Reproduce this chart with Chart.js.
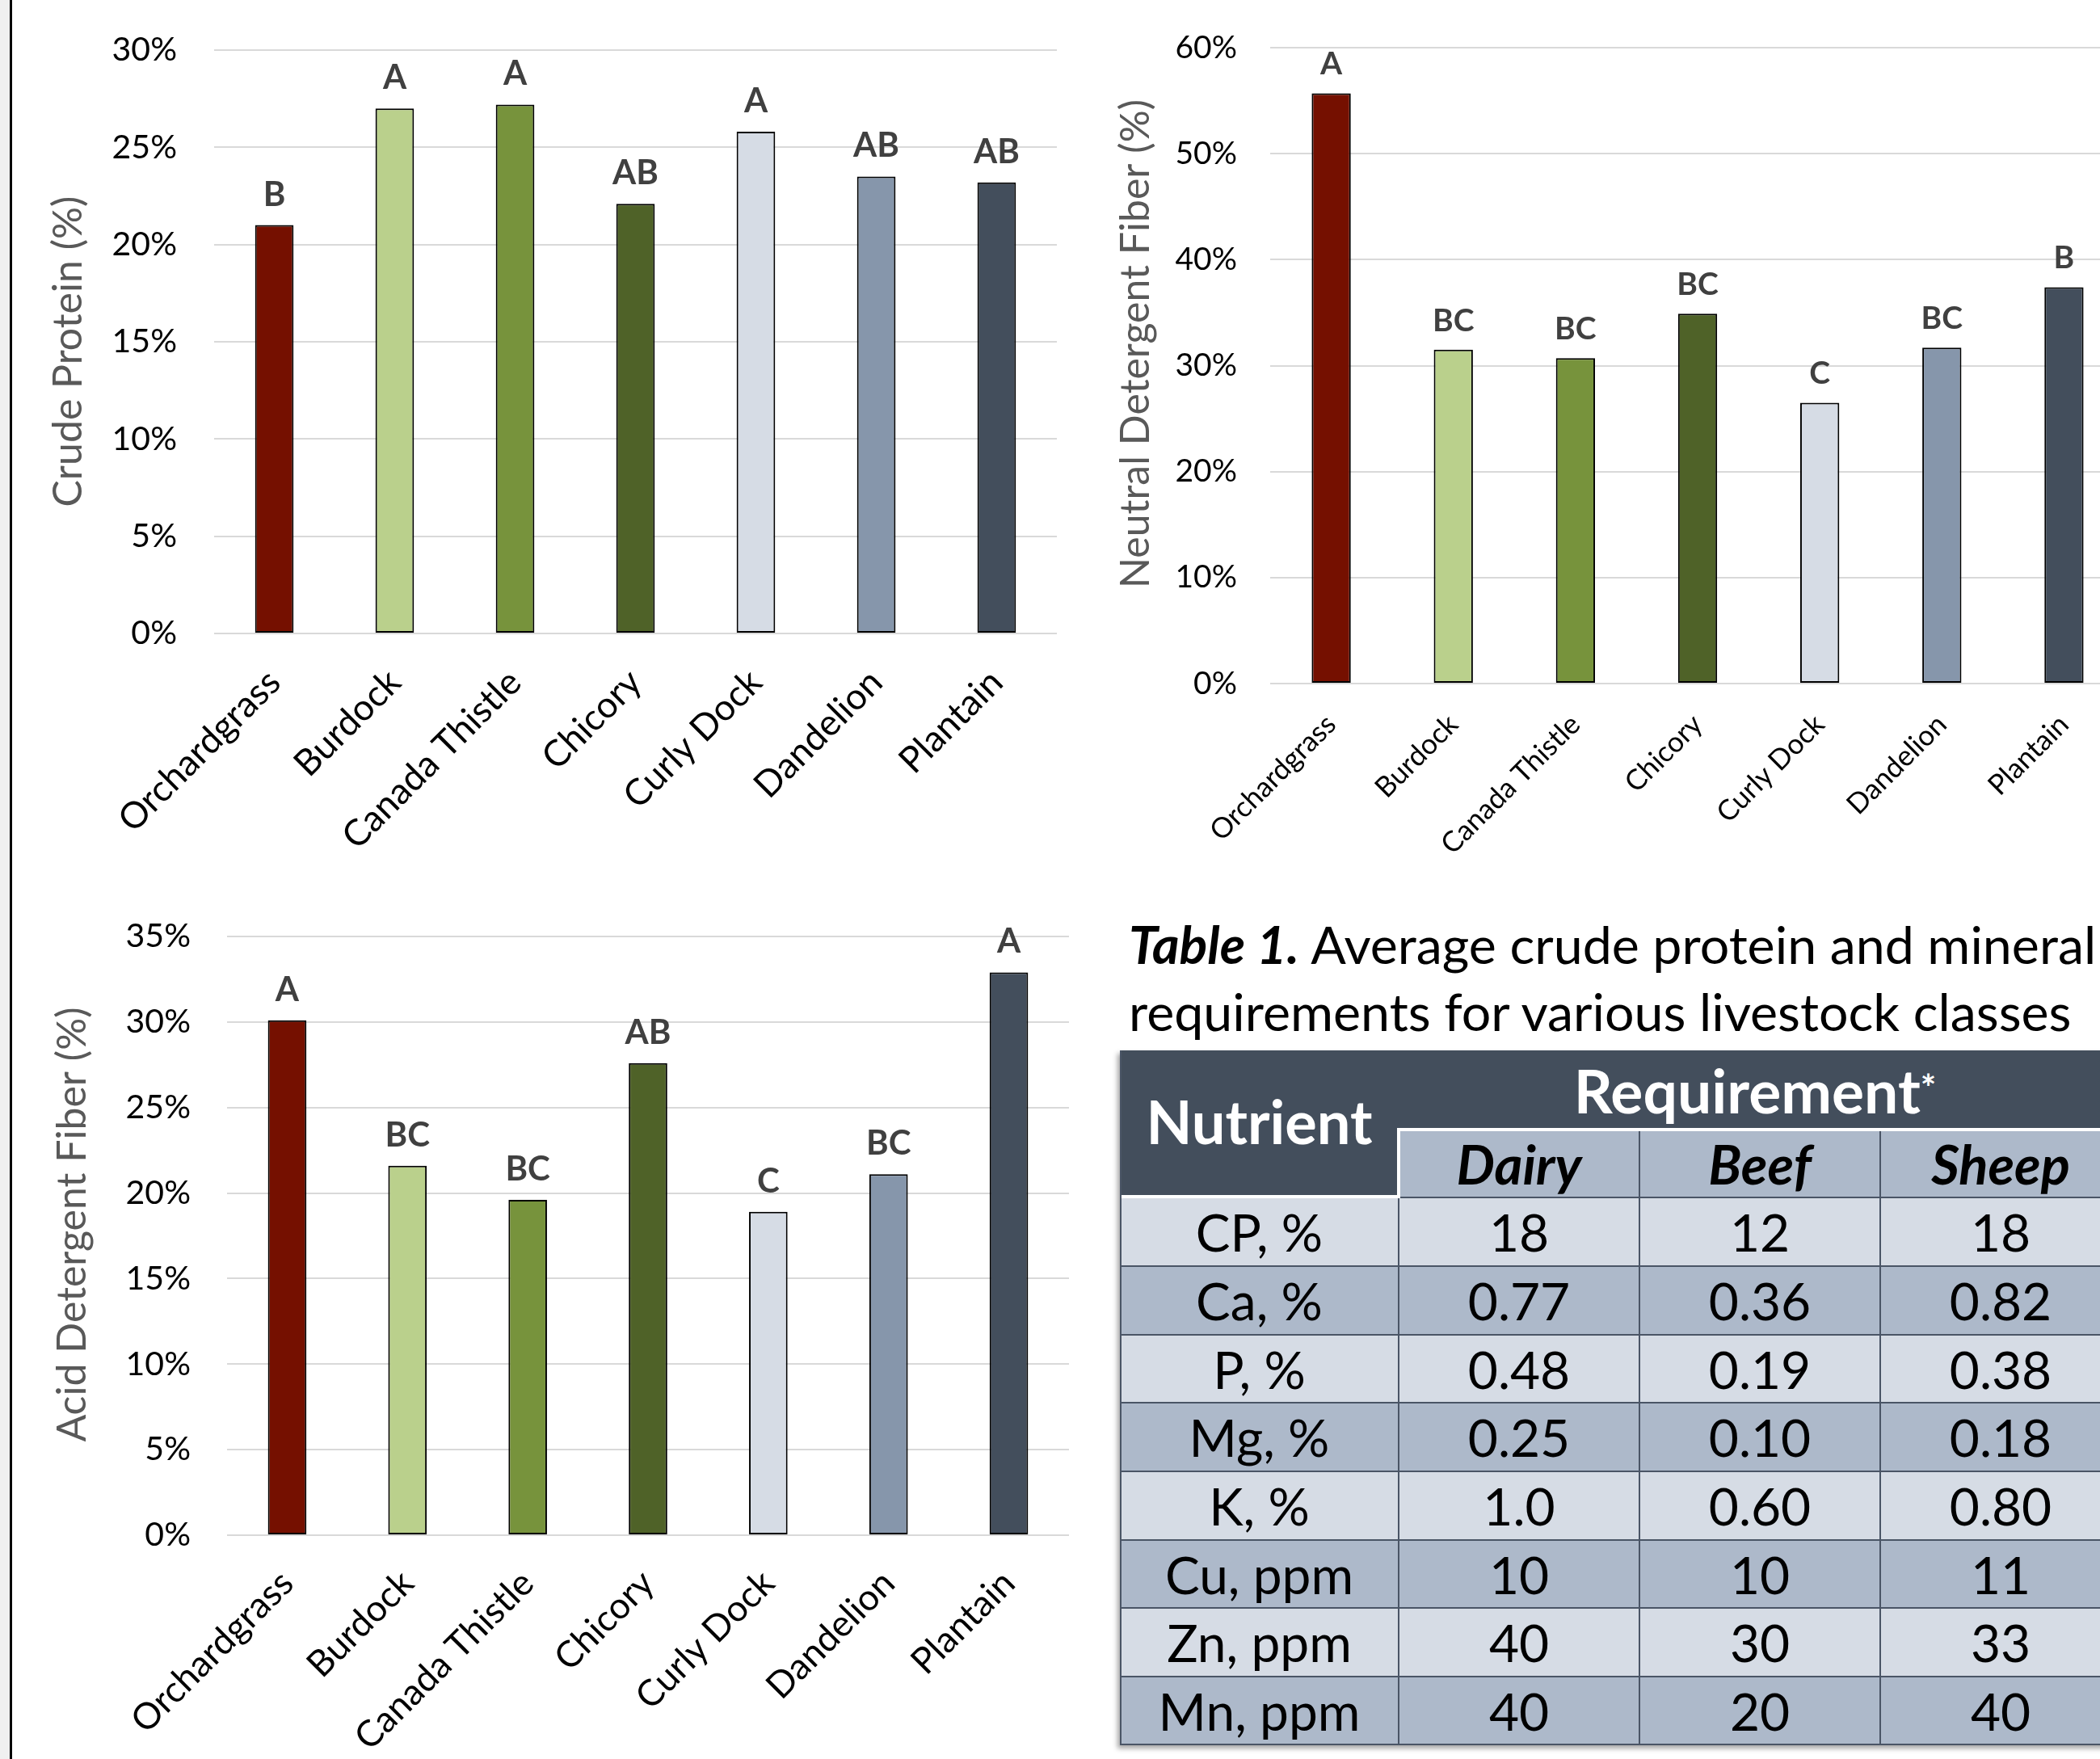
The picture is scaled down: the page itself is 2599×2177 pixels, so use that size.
<!DOCTYPE html>
<html><head><meta charset="utf-8">
<script src="https://cdn.jsdelivr.net/npm/chart.js@4.4.1/dist/chart.umd.min.js"></script>
<style>
html,body{margin:0;padding:0;width:2599px;height:2177px;overflow:hidden;background:#fff;font-family:Lato,sans-serif;position:relative;}
#strip{position:absolute;left:0;top:0;width:12px;height:2177px;background:#f0f0f0;}
#vline{position:absolute;left:12px;top:0;width:3px;height:2177px;background:#000;}
canvas{position:absolute;}
.ttl{position:absolute;left:1397px;font-size:64.5px;line-height:83px;height:83px;color:#000;white-space:nowrap;}
.cell{position:absolute;display:flex;align-items:center;justify-content:center;box-sizing:border-box;white-space:nowrap;color:#000;}
.ln{position:absolute;}
</style></head><body>
<div id="strip"></div><div id="vline"></div>
<canvas id="c1"></canvas>
<canvas id="c2"></canvas>
<canvas id="c3"></canvas>
<div class="ttl" style="top:1127px"><b><i>Table 1.</i></b> Average crude protein and mineral</div>
<div class="ttl" style="top:1210px">requirements for various livestock classes</div>
<div id="tbl"></div>
<script>
// ---------- data ----------
const categories = ['Orchardgrass','Burdock','Canada Thistle','Chicory','Curly Dock','Dandelion','Plantain'];
const crudeProtein = [21.0, 27.0, 27.2, 22.1, 25.8, 23.5, 23.2];
const crudeProteinLetters = ['B','A','A','AB','A','AB','AB'];
const ndf = [55.7, 31.5, 30.7, 34.9, 26.5, 31.7, 37.4];
const ndfLetters = ['A','BC','BC','BC','C','BC','B'];
const adf = [30.1, 21.6, 19.6, 27.6, 18.9, 21.1, 32.9];
const adfLetters = ['A','BC','BC','AB','C','BC','A'];

const tableHeaderNutrient = 'Nutrient';
const tableHeaderGroup = 'Requirement';
const livestock = ['Dairy','Beef','Sheep'];
const nutrients = ['CP, %','Ca, %','P, %','Mg, %','K, %','Cu, ppm','Zn, ppm','Mn, ppm'];
const dairy = ['18','0.77','0.48','0.25','1.0','10','40','40'];
const beef  = ['12','0.36','0.19','0.10','0.60','10','30','20'];
const sheep = ['18','0.82','0.38','0.18','0.80','11','33','40'];

// ---------- styles ----------
const barColors = ['#751000','#bad08c','#77933c','#4f6228','#d6dce5','#8696ab','#434e5c'];
const FONT = 'Lato';

const letterPlugin = {
  id: 'letters',
  afterDatasetsDraw(chart, args, opts) {
    const ctx = chart.ctx;
    const meta = chart.getDatasetMeta(0);
    ctx.save();
    ctx.font = 'bold ' + opts.size + 'px ' + FONT;
    ctx.fillStyle = '#404040';
    ctx.textAlign = 'center';
    ctx.textBaseline = 'alphabetic';
    meta.data.forEach((bar, i) => {
      ctx.fillText(opts.labels[i], bar.x, bar.y - opts.gap);
    });
    ctx.restore();
  }
};

const yTitlePlugin = {
  id: 'ytitle',
  afterDraw(chart, args, opts) {
    const ctx = chart.ctx;
    const a = chart.chartArea;
    ctx.save();
    ctx.translate(opts.x, (a.top + a.bottom) / 2 + opts.dy);
    ctx.rotate(-Math.PI / 2);
    ctx.font = opts.size + 'px ' + FONT;
    ctx.fillStyle = '#595959';
    ctx.textAlign = 'center';
    ctx.textBaseline = 'middle';
    ctx.fillText(opts.text, 0, 0);
    ctx.restore();
  }
};

function makeChart(id, L, values, letters, yMax, step, title) {
  const cv = document.getElementById(id);
  cv.width = L.w; cv.height = L.h;
  cv.style.left = L.x + 'px'; cv.style.top = L.y + 'px';
  cv.style.width = L.w + 'px'; cv.style.height = L.h + 'px';
  return new Chart(cv, {
    type: 'bar',
    data: { labels: categories, datasets: [{
      data: values, backgroundColor: barColors, borderColor: '#000', borderWidth: 2,
      barPercentage: 0.32, categoryPercentage: 1.0, borderSkipped: false
    }]},
    options: {
      responsive: false, animation: false, devicePixelRatio: 1,
      layout: { autoPadding: false, padding: { left: 0, top: L.padTop, right: L.padRight, bottom: 0 } },
      plugins: { legend: { display: false }, tooltip: { enabled: false },
        letters: { labels: letters, size: L.letterSize, gap: L.letterGap },
        ytitle: { text: title, size: L.titleFont, x: L.titleX, dy: L.titleDy } },
      scales: {
        x: {
          grid: { display: false, drawTicks: false }, border: { display: false },
          ticks: { color: '#000', font: { family: FONT, size: L.xFont }, minRotation: 45, maxRotation: 45,
                   autoSkip: false, padding: L.xPad },
          afterFit: s => { s.height = L.xHeight; }
        },
        y: {
          min: 0, max: yMax,
          grid: { color: '#d9d9d9', lineWidth: 2, drawTicks: true, tickLength: L.yPad - 4, tickColor: 'rgba(0,0,0,0)' },
          border: { display: false },
          ticks: { stepSize: step, color: '#000', font: { family: FONT, size: L.yFont }, padding: 4,
                   callback: v => v + '%' },
          afterFit: s => { s.width = L.yWidth; }
        }
      }
    },
    plugins: [letterPlugin, yTitlePlugin]
  });
}

const L1 = { x: 15, y: 0, w: 1310, h: 1080, padTop: 62, padRight: 17, yWidth: 250, xHeight: 296,
  xFont: 45, yFont: 41, titleFont: 50, titleX: 70, titleDy: 12, xPad: 34, yPad: 46, letterSize: 42, letterGap: 24 };
const L2 = { x: 1340, y: 0, w: 1300, h: 1080, padTop: 59, padRight: 10, yWidth: 232, xHeight: 234,
  xFont: 35, yFont: 39, titleFont: 50, titleX: 66, titleDy: -27, xPad: 30, yPad: 41, letterSize: 39, letterGap: 23 };
const L3 = { x: 15, y: 1085, w: 1330, h: 1092, padTop: 74, padRight: 22, yWidth: 266, xHeight: 277,
  xFont: 45, yFont: 41, titleFont: 50, titleX: 75, titleDy: -14, xPad: 33, yPad: 45, letterSize: 42, letterGap: 24 };

makeChart('c1', L1, crudeProtein, crudeProteinLetters, 30, 5, 'Crude Protein (%)');
makeChart('c2', L2, ndf, ndfLetters, 60, 10, 'Neutral Detergent Fiber (%)');
makeChart('c3', L3, adf, adfLetters, 35, 5, 'Acid Detergent Fiber (%)');

// ---------- table ----------
(function buildTable(){
  const T = document.getElementById('tbl');
  const colX = [1386, 1731, 2029, 2327, 2625];
  const rowY = [1300, 1398, 1482, 1567, 1652, 1736, 1821, 1906, 1990, 2075, 2160];
  const dark = '#434e5c', mid = '#adb9ca', light = '#d6dce5';
  function cell(x0, y0, x1, y1, bg, html, css) {
    const d = document.createElement('div');
    d.className = 'cell';
    d.style.cssText += `left:${x0}px;top:${y0}px;width:${x1-x0}px;height:${y1-y0}px;background:${bg};` + (css||'');
    d.innerHTML = html;
    T.appendChild(d);
  }
  function line(x, y, w, h, c) {
    const d = document.createElement('div');
    d.className = 'ln';
    d.style.cssText = `left:${x}px;top:${y}px;width:${w}px;height:${h}px;background:${c};`;
    T.appendChild(d);
  }
  const sh = document.createElement('div');
  sh.style.cssText = `position:absolute;left:${colX[0]}px;top:${rowY[0]}px;width:${colX[4]-colX[0]}px;height:${rowY[10]-rowY[0]}px;box-shadow:-3px 4px 6px rgba(0,0,0,0.35);`;
  T.appendChild(sh);
  cell(colX[0], rowY[0], colX[1], rowY[2], dark, tableHeaderNutrient, 'color:#fff;font-weight:bold;font-size:74px;padding-bottom:8px;');
  cell(colX[1], rowY[0], colX[4], rowY[1], dark, tableHeaderGroup + '<sup style="font-size:46px;position:relative;top:-4px;">*</sup>', 'color:#fff;font-weight:bold;font-size:75px;padding-right:12px;');
  livestock.forEach((n, i) => cell(colX[i+1], rowY[1], colX[i+2], rowY[2], mid, n, 'font-weight:bold;font-style:italic;font-size:67px;'));
  const cols = [dairy, beef, sheep];
  nutrients.forEach((n, r) => {
    const bg = r % 2 === 0 ? light : mid;
    cell(colX[0], rowY[r+2], colX[1], rowY[r+3], bg, n, 'font-size:64px;');
    cols.forEach((c, i) => cell(colX[i+1], rowY[r+2], colX[i+2], rowY[r+3], bg, c[r], 'font-size:64px;'));
  });
  for (let r = 3; r < 10; r++) line(colX[0], rowY[r]-1, colX[4]-colX[0], 2, '#4a5566');
  line(colX[1], rowY[2]-1, colX[4]-colX[1], 2, '#4a5566');
  for (let c = 2; c < 4; c++) line(colX[c]-1, rowY[1], 2, rowY[10]-rowY[1], '#4a5566');
  line(colX[1]-1, rowY[2], 2, rowY[10]-rowY[2], '#4a5566');
  line(colX[0], rowY[2]-3, colX[1]-colX[0]+2, 4, '#fff');
  line(colX[1]-2, rowY[1]-2, 4, rowY[2]-rowY[1]+1, '#fff');
  line(colX[1]-2, rowY[1]-2, colX[4]-colX[1]+2, 4, '#fff');
  line(colX[0], rowY[0], 2, rowY[10]-rowY[0], '#4a5566');
  line(colX[0], rowY[10]-2, colX[4]-colX[0], 2, '#4a5566');
})();
</script>
</body></html>
